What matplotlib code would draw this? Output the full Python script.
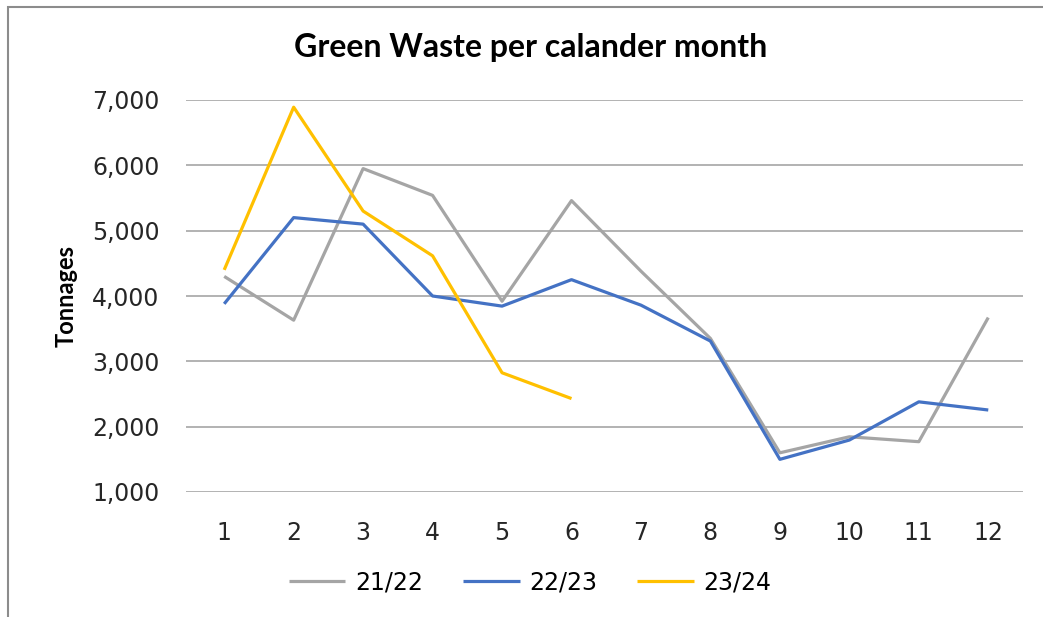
import matplotlib
matplotlib.use("Agg")
import matplotlib.pyplot as plt
from matplotlib.patches import Rectangle
from matplotlib.ticker import FuncFormatter

months = [1, 2, 3, 4, 5, 6, 7, 8, 9, 10, 11, 12]
series_names = ["21/22", "22/23", "23/24"]
vals_2122 = [4300, 3630, 5950, 5540, 3920, 5460, 4380, 3350, 1600, 1845, 1770, 3670]
vals_2223 = [3880, 5200, 5100, 4000, 3845, 4250, 3860, 3310, 1500, 1795, 2380, 2255]
vals_2324 = [4400, 6890, 5300, 4615, 2825, 2430]
colors = ["#A5A5A5", "#4472C4", "#FFC000"]

fig = plt.figure(figsize=(10.43, 6.17), dpi=100)
ax = fig.add_axes([186 / 1043, 1 - 492 / 617, (1023 - 186) / 1043, (492 - 100) / 617])

# chart area border (Excel style)
fig.patches.append(Rectangle((8 / 1043, -0.05), 1.1, 1 - 7 / 617 + 0.05,
                             transform=fig.transFigure, fill=False,
                             edgecolor="#8C8C8C", linewidth=1.5))

ax.plot(months, vals_2122, color=colors[0], linewidth=2.3, label=series_names[0], solid_capstyle="butt")
ax.plot(months, vals_2223, color=colors[1], linewidth=2.3, label=series_names[1], solid_capstyle="butt")
ax.plot(months[:len(vals_2324)], vals_2324, color=colors[2], linewidth=2.3, label=series_names[2],
        solid_capstyle="butt")

ax.set_xlim(0.45, 12.5)
ax.set_ylim(1000, 7000)
ax.set_xticks(months)
ax.set_yticks(range(1000, 7001, 1000))
ax.yaxis.set_major_formatter(FuncFormatter(lambda v, p: f"{int(v):,}"))
ax.tick_params(length=0, labelsize=17, labelcolor="#262626")
ax.tick_params(axis="x", pad=21)
ax.tick_params(axis="y", pad=19)
ax.grid(axis="y", color="#A6A6A6", linewidth=1.2)
ax.set_axisbelow(True)
for s in ax.spines.values():
    s.set_visible(False)

ax.set_ylabel("Tonnages", family="Lato", fontweight="bold", fontsize=17, labelpad=10)
fig.text(531 / 1043, 1 - 47 / 617, "Green Waste per calander month", family="Lato",
         fontweight="bold", fontsize=23, ha="center", va="center")

fig.legend(loc="center", bbox_to_anchor=(530 / 1043, 1 - 582 / 617), ncol=3, frameon=False,
           fontsize=17, handlelength=2.4, columnspacing=1.7, handletextpad=0.4)

fig.savefig("out.png", dpi=100)
